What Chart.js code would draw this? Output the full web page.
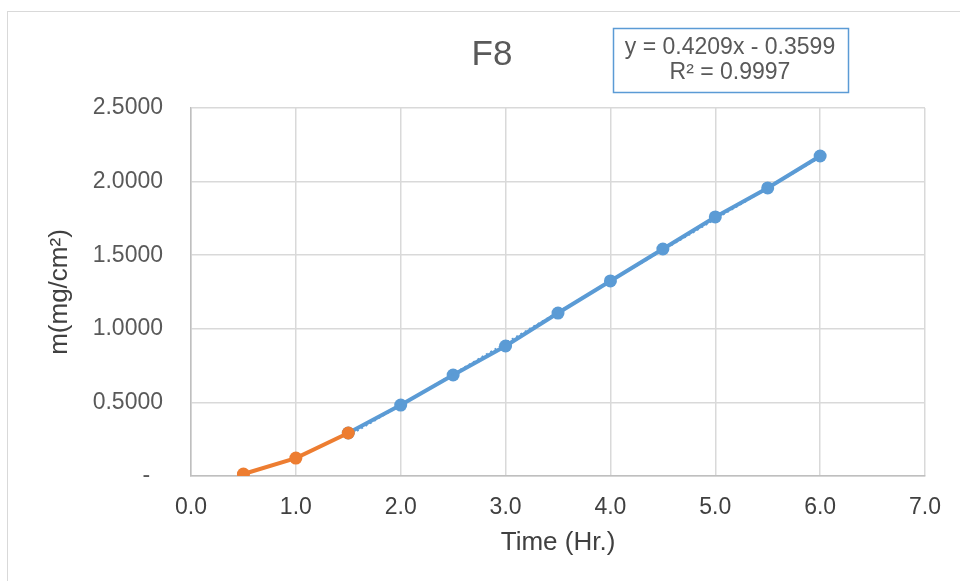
<!DOCTYPE html>
<html>
<head>
<meta charset="utf-8">
<title>F8</title>
<script src="https://cdn.jsdelivr.net/npm/chart.js@4.4.1/dist/chart.umd.min.js"></script>
<style>
  html, body { margin: 0; padding: 0; background: #fff; overflow: hidden; }
  #wrap { position: relative; width: 960px; height: 581px; }
  #frame { position: absolute; left: 7px; top: 11px; width: 1000px; height: 700px; border: 1px solid #d9d9d9; box-sizing: border-box; }
  canvas { position: absolute; left: 0; top: 0; }
</style>
</head>
<body>
<div id="wrap">
  <div id="frame"></div>
  <canvas id="chart" width="960" height="581"></canvas>
</div>
<script>
// early readings (orange) and the linear stage (blue)
const earlyTime = [0.5, 1.0, 1.5];
const earlyMass = [0.0136, 0.122, 0.292];
const linearTime = [1.5, 2.0, 2.5, 3.0, 3.5, 4.0, 4.5, 5.0, 5.5, 6.0];
const linearMass = [0.292, 0.482, 0.686, 0.883, 1.107, 1.325, 1.542, 1.760, 1.957, 2.174];

// fitted line shown in the box
const slope = 0.4209;
const intercept = -0.3599;
const r2 = 0.9997;

const xTicks = [0, 1, 2, 3, 4, 5, 6, 7];
const xTickLabels = ['0.0', '1.0', '2.0', '3.0', '4.0', '5.0', '6.0', '7.0'];
const yTicks = [0, 0.5, 1.0, 1.5, 2.0, 2.5];
// accounting style: zero shows as a dash followed by padding
const yTickLabels = ['-  ', '0.5000', '1.0000', '1.5000', '2.0000', '2.5000'];

const BLUE = '#5B9BD5';
const ORANGE = '#ED7D31';
const FONT = 'Arial, "Liberation Sans", sans-serif';

const toPoints = (xs, ys) => xs.map((x, i) => ({ x, y: ys[i] }));
const trendX = [linearTime[0], linearTime[linearTime.length - 1]];
const trendPoints = trendX.map(x => ({ x, y: slope * x + intercept }));

const sign = intercept < 0 ? '-' : '+';
const eqLines = [
  'y = ' + slope.toFixed(4) + 'x ' + sign + ' ' + Math.abs(intercept).toFixed(4),
  'R\u00b2 = ' + r2.toFixed(4)
];

// chart title and trendline equation box
const annotations = {
  id: 'annotations',
  afterDraw(chart) {
    const ctx = chart.ctx;
    ctx.save();
    ctx.fillStyle = '#595959';
    ctx.font = '35px ' + FONT;
    ctx.textAlign = 'center';
    ctx.textBaseline = 'middle';
    ctx.fillText('F8', 492, 55);

    ctx.fillStyle = '#fff';
    ctx.fillRect(613, 28, 235, 64);
    ctx.strokeStyle = BLUE;
    ctx.lineWidth = 1.5;
    ctx.strokeRect(613.5, 28.5, 235, 64);
    ctx.fillStyle = '#595959';
    ctx.font = '23px ' + FONT;
    ctx.fillText(eqLines[0], 730, 48);
    ctx.fillText(eqLines[1], 730, 73);
    ctx.restore();
  }
};

new Chart(document.getElementById('chart'), {
  type: 'scatter',
  data: {
    datasets: [
      {
        label: 'early',
        data: toPoints(earlyTime, earlyMass),
        showLine: true,
        borderColor: ORANGE,
        backgroundColor: ORANGE,
        borderWidth: 4,
        pointRadius: 6.5,
        pointBorderWidth: 0
      },
      {
        label: 'trend',
        data: trendPoints,
        showLine: true,
        borderColor: BLUE,
        borderWidth: 2,
        borderDash: [2, 3],
        pointRadius: 0
      },
      {
        label: 'linear',
        data: toPoints(linearTime, linearMass),
        showLine: true,
        borderColor: BLUE,
        backgroundColor: BLUE,
        borderWidth: 4,
        pointRadius: 6.5,
        pointBorderWidth: 0
      }
    ]
  },
  options: {
    responsive: false,
    animation: false,
    layout: { padding: { top: 108, right: 35, bottom: 0, left: 0 } },
    plugins: {
      legend: { display: false },
      tooltip: { enabled: false }
    },
    scales: {
      x: {
        type: 'linear',
        min: 0,
        max: 7,
        afterBuildTicks: scale => { scale.ticks = xTicks.map(v => ({ value: v })); },
        afterFit: scale => { scale.height = 105; },
        grid: { color: '#d9d9d9', lineWidth: 1.5, drawTicks: false },
        border: { color: '#bfbfbf', width: 1.5 },
        ticks: {
          padding: 18,
          color: '#404040',
          font: { family: FONT, size: 23 },
          callback: (v, i) => xTickLabels[i]
        },
        title: {
          display: true,
          text: 'Time (Hr.)',
          color: '#404040',
          font: { family: FONT, size: 26 },
          padding: { top: 0, bottom: 23 }
        }
      },
      y: {
        type: 'linear',
        min: 0,
        max: 2.5,
        afterBuildTicks: scale => { scale.ticks = yTicks.map(v => ({ value: v })); },
        afterFit: scale => { scale.width = 191; },
        grid: { color: '#d9d9d9', lineWidth: 1.5, drawTicks: false },
        border: { color: '#bfbfbf', width: 1.5 },
        ticks: {
          padding: 28,
          color: '#595959',
          font: { family: FONT, size: 23 },
          callback: (v, i) => yTickLabels[i]
        },
        title: {
          display: true,
          text: 'm(mg/cm\u00b2)',
          color: '#404040',
          font: { family: FONT, size: 26 },
          padding: { top: 44, bottom: 0 }
        }
      }
    }
  },
  plugins: [annotations]
});
</script>
</body>
</html>
